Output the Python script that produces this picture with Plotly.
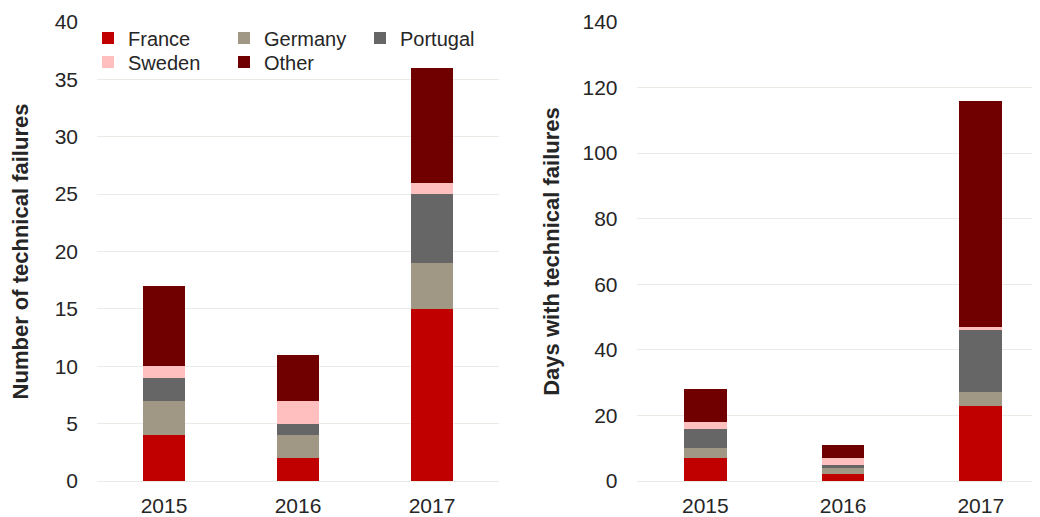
import plotly.graph_objects as go

years = ["2015", "2016", "2017"]
series_names = ["France", "Germany", "Portugal", "Sweden", "Other"]
colors = ["#C00000", "#A09885", "#666666", "#FFBFBF", "#700000"]

# Number of technical failures (left)
failures_france = [4, 2, 15]
failures_germany = [3, 2, 4]
failures_portugal = [2, 1, 6]
failures_sweden = [1, 2, 1]
failures_other = [7, 4, 10]

# Days with technical failures (right)
days_france = [7, 2, 23]
days_germany = [3, 2, 4]
days_portugal = [6, 1, 19]
days_sweden = [2, 2, 1]
days_other = [10, 4, 69]

left_vals = [failures_france, failures_germany, failures_portugal, failures_sweden, failures_other]
right_vals = [days_france, days_germany, days_portugal, days_sweden, days_other]

left_ticks = [0, 5, 10, 15, 20, 25, 30, 35, 40]
right_ticks = [0, 20, 40, 60, 80, 100, 120, 140]

FONT = "Liberation Sans, Arial, sans-serif"
TXT = "#262626"
GRID = "#EBEBE6"

W, H = 1032, 509  # page body has an 8px margin
T, B = 14, 33
PH = H - T - B

fig = go.Figure()
for i, (name, col, vals) in enumerate(zip(series_names, colors, left_vals)):
    fig.add_trace(go.Bar(x=years, y=vals, name=name, marker_color=col,
                         marker_line_width=0, xaxis="x", yaxis="y",
                         legend="legend" if i < 3 else "legend2", showlegend=True))
for name, col, vals in zip(series_names, colors, right_vals):
    fig.add_trace(go.Bar(x=years, y=vals, name=name, marker_color=col,
                         marker_line_width=0, xaxis="x2", yaxis="y2",
                         showlegend=False))

tickfont = dict(family=FONT, size=21, color=TXT)
legend_common = dict(orientation="h", xref="paper", yref="paper",
                     xanchor="left", yanchor="top",
                     entrywidth=91, entrywidthmode="pixels", itemwidth=30,
                     bgcolor="rgba(0,0,0,0)", font=dict(family=FONT, size=20, color=TXT),
                     traceorder="normal")

fig.update_layout(
    width=W, height=H,
    margin=dict(l=0, r=0, t=T, b=B),
    paper_bgcolor="white", plot_bgcolor="white",
    barmode="stack", bargap=0.69,
    font=dict(family=FONT, size=20, color=TXT),
    xaxis=dict(domain=[89/W, 491/W], type="category", range=[-0.5, 2.5],
               showgrid=False, zeroline=False, showline=False, ticks="",
               tickfont=tickfont, ticklabelstandoff=10),
    yaxis=dict(range=[0, 40], tickvals=left_ticks, showgrid=True, gridcolor=GRID,
               gridwidth=1, zeroline=True, zerolinecolor=GRID, zerolinewidth=1,
               showline=False, ticks="", tickfont=tickfont, ticklabelstandoff=18,
               title=dict(text="<b>Number of technical failures</b>",
                          font=dict(family=FONT, size=22, color=TXT), standoff=22)),
    xaxis2=dict(domain=[628.5/W, 1.0], type="category", range=[-0.5, 2.43],
                anchor="y2", showgrid=False, zeroline=False, showline=False, ticks="",
                tickfont=tickfont, ticklabelstandoff=10),
    yaxis2=dict(range=[0, 140], tickvals=right_ticks, anchor="x2", showgrid=True,
                gridcolor=GRID, gridwidth=1, zeroline=True, zerolinecolor=GRID,
                zerolinewidth=1, showline=False, ticks="", tickfont=tickfont,
                ticklabelstandoff=18,
                title=dict(text="<b>Days with technical failures</b>",
                           font=dict(family=FONT, size=22, color=TXT), standoff=16)),
    legend=dict(x=80/W, y=1 + (T - 10.5)/PH, **legend_common),
    legend2=dict(x=80/W, y=1 - (34.7 - T)/PH, **legend_common),
)

fig.write_html("out.html")
